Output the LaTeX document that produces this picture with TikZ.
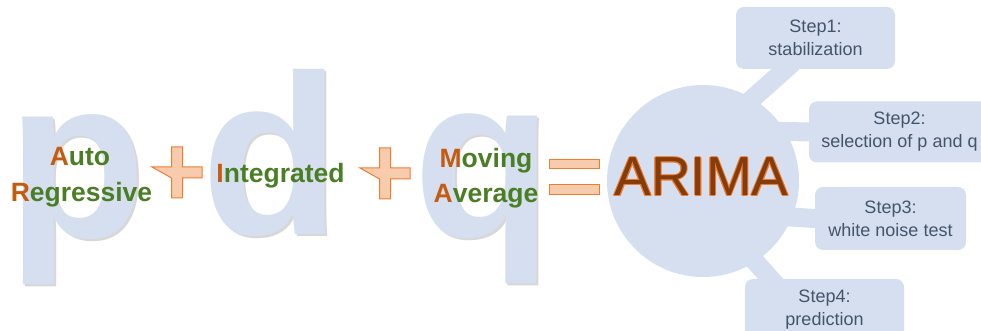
\documentclass[tikz,border=0pt]{standalone}
\usepackage{fontspec}
\setmainfont{Liberation Sans}
\usepackage{xcolor}
\definecolor{paleBlue}{RGB}{214,223,240}
\definecolor{darkGreen}{RGB}{74,126,36}
\definecolor{darkOrange}{RGB}{197,90,17}
\definecolor{darkBrown}{RGB}{132,60,12}
\definecolor{lightOrange}{RGB}{248,203,173}
\definecolor{lineOrange}{RGB}{237,125,49}
\definecolor{slate}{RGB}{68,84,106}
\newcommand{\init}[1]{\textcolor{darkOrange}{#1}}

\begin{document}
\begin{tikzpicture}[x=1pt, y=1pt,
  bigLetter/.style={anchor=base, inner sep=0, text=paleBlue,
    font=\fontsize{228}{228}\selectfont\bfseries},
  word/.style={anchor=base, inner sep=0, text=darkGreen,
    font=\fontsize{26.5}{26.5}\selectfont\bfseries},
  sign/.style={fill=lightOrange, draw=lineOrange, line width=1pt},
  stepBox/.style={fill=paleBlue, rounded corners=8pt, align=center,
    text=slate, inner sep=0, font=\fontsize{18}{23}\selectfont},
  link/.style={draw=paleBlue, line width=19pt, shorten <=-10pt, shorten >=-10pt},
  arimaText/.style={anchor=base, inner sep=0, text=darkBrown,
    font=\fontsize{55}{55}\selectfont}
]
  \useasboundingbox (0,0) rectangle (981,331);
  \clip (0,0) rectangle (981,331);

  % p + d + q
  \foreach \name/\x/\y/\ch in {letterP/77.5/93/p, letterD/271.5/96/d, letterQ/483/94/q} {
    \node[bigLetter, text=black!35, opacity=0.45] at (\x+2,\y-2) {\ch};
    \node[bigLetter] (\name) at (\x,\y) {\ch};
  }

  \node[word] (auto) at (80,165) {\init{A}uto};
  \node[word] (regressive) at (81.5,129) {\init{R}egressive};
  \node[word] (integrated) at (280.5,148) {\init{I}ntegrated};
  \node[word] (moving) at (486,163) {\init{M}oving};
  \node[word] (average) at (486,128) {\init{A}verage};

  % plus and equals signs
  \foreach \cx/\cy in {177/158.5, 385/157.5}
    \draw[sign] (\cx-25,\cy+5.5) -- ++(19.5,0) -- ++(0,20) -- ++(11,0)
      -- ++(0,-20) -- ++(19.5,0) -- ++(0,-11) -- ++(-19.5,0) -- ++(0,-20)
      -- ++(-11,0) -- ++(0,20) -- cycle;
  \draw[sign] (549,162) rectangle (599,171);
  \draw[sign] (549,136) rectangle (599,146);

  % ARIMA and its steps
  \node[circle, fill=paleBlue, minimum size=192pt, inner sep=0] (arima) at (703,150) {};
  \node[stepBox, minimum width=159pt, minimum height=62pt] (s1) at (815.5,293) {Step1:\\stabilization};
  \node[stepBox, minimum width=181pt, minimum height=61pt] (s2) at (899.5,199) {Step2:\\selection of p and q};
  \node[stepBox, minimum width=151pt, minimum height=63pt] (s3) at (890.5,112.5) {Step3:\\white noise test};
  \node[stepBox, minimum width=159pt, minimum height=62pt] (s4) at (824.5,21) {Step4:\\prediction};

  \draw[link] (arima.59) -- (s1.-134);
  \draw[link] (arima.31) -- (s2.west);
  \draw[link] (arima.-22) -- (s3.west);
  \draw[link] (arima.-57) -- (s4.150);

  \foreach \a in {0,45,...,315}
    \node[arimaText, text=lineOrange, shift={(\a:1)}] at (701.5,135) {ARIMA};
  \node[arimaText] (arimaLabel) at (701.5,135) {ARIMA};
\end{tikzpicture}
\end{document}
